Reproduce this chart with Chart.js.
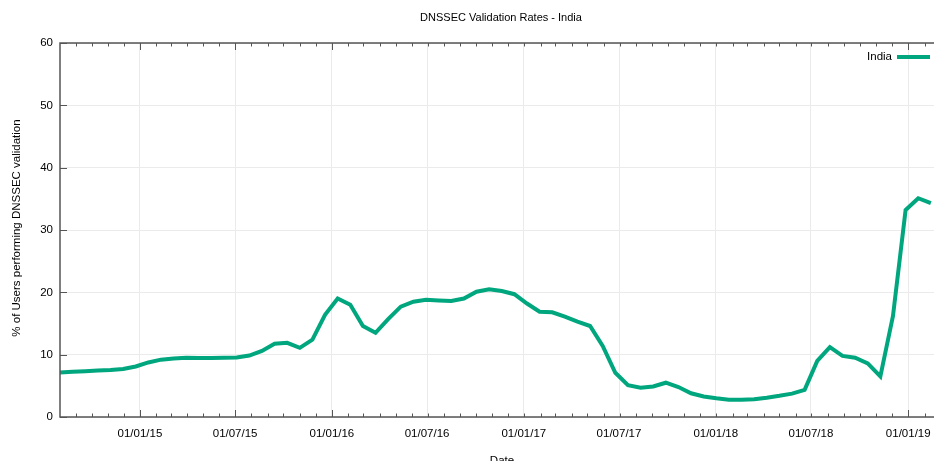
<!DOCTYPE html>
<html>
<head>
<meta charset="utf-8">
<script src="https://cdn.jsdelivr.net/npm/chart.js@4.4.0/dist/chart.umd.min.js"></script>
<style>
  html, body { margin: 0; padding: 0; background: #fff; }
  canvas { display: block; }
</style>
</head>
<body>
<canvas id="dnssecChart" width="934" height="461"></canvas>
<script>
// x values: days since 01/01/2015
var days = [
  -152, -128, -104, -80, -56, -32, -8, 16, 40, 64,
  88, 112, 136, 160, 184, 208, 232, 256, 280, 304,
  328, 352, 376, 400, 424, 448, 472, 496, 520, 544,
  568, 592, 616, 640, 664, 688, 712, 736, 760, 784,
  808, 832, 856, 880, 904, 928, 952, 976, 1000, 1024,
  1048, 1072, 1096, 1120, 1144, 1168, 1192, 1216, 1240, 1264,
  1288, 1312, 1336, 1360, 1384, 1408, 1432, 1456, 1480, 1504
];
// % of users performing DNSSEC validation
var india = [
  7.15, 7.25, 7.35, 7.45, 7.55, 7.7, 8.1, 8.75, 9.2, 9.4,
  9.5, 9.45, 9.45, 9.5, 9.55, 9.85, 10.6, 11.75, 11.9, 11.1,
  12.4, 16.4, 19.0, 18.0, 14.6, 13.5, 15.7, 17.7, 18.5, 18.8,
  18.7, 18.6, 19.0, 20.1, 20.5, 20.2, 19.7, 18.2, 16.9, 16.8,
  16.1, 15.3, 14.6, 11.4, 7.1, 5.1, 4.7, 4.9, 5.5, 4.8,
  3.8, 3.3, 3.0, 2.75, 2.75, 2.85, 3.1, 3.4, 3.75, 4.35,
  9.0, 11.2, 9.8, 9.5, 8.6, 6.5, 16.2, 33.2, 35.1, 34.3
];
var tickDays = [0, 181, 365, 546, 730, 911, 1095, 1276, 1461];
var tickLabels = ['01/01/15', '01/07/15', '01/01/16', '01/07/16', '01/01/17',
                  '01/07/17', '01/01/18', '01/07/18', '01/01/19'];
var yTicks = [0, 10, 20, 30, 40, 50, 60];

var FONT = '"Liberation Sans", Arial, Helvetica, sans-serif';
var lineColor = 'rgb(0, 166, 126)';
var axisColor = '#555555';

// month starts for the minor ticks
var minorDays = [];
for (var y = 2014; y <= 2019; y++) {
  for (var m = 0; m < 12; m++) {
    minorDays.push((Date.UTC(y, m, 1) - Date.UTC(2015, 0, 1)) / 86400000);
  }
}

var points = days.map(function(d, i) { return { x: d, y: india[i] }; });

var decor = {
  id: 'decor',
  afterDraw: function(chart) {
    var ctx = chart.ctx, a = chart.chartArea;
    var xs = chart.scales.x, ys = chart.scales.y;
    ctx.save();

    // frame: left, bottom, top
    ctx.strokeStyle = axisColor;
    ctx.lineWidth = 1.5;
    ctx.beginPath();
    ctx.moveTo(a.right + 2, a.top); ctx.lineTo(a.left, a.top);
    ctx.lineTo(a.left, a.bottom); ctx.lineTo(a.right + 2, a.bottom);
    ctx.stroke();

    // inward ticks
    ctx.lineWidth = 1;
    ctx.beginPath();
    minorDays.forEach(function(d) {
      if (d < xs.min || d > xs.max) return;
      var px = Math.round(xs.getPixelForValue(d)) + 0.5;
      var major = tickDays.indexOf(d) >= 0;
      var len = major ? 7 : 3.5;
      ctx.moveTo(px, a.bottom); ctx.lineTo(px, a.bottom - len);
      ctx.moveTo(px, a.top); ctx.lineTo(px, a.top + len);
    });
    yTicks.forEach(function(v) {
      var py = Math.round(ys.getPixelForValue(v)) + 0.5;
      ctx.moveTo(a.left, py); ctx.lineTo(a.left + 7, py);
    });
    ctx.stroke();

    // x tick labels
    ctx.fillStyle = '#000';
    ctx.font = '11.5px ' + FONT;
    ctx.textAlign = 'center';
    ctx.textBaseline = 'middle';
    tickDays.forEach(function(d, i) {
      ctx.fillText(tickLabels[i], xs.getPixelForValue(d), 434);
    });

    // titles
    ctx.font = '11px ' + FONT;
    ctx.fillText('DNSSEC Validation Rates - India', 501, 18);
    ctx.font = '11.5px ' + FONT;
    ctx.fillText('Date', 502, 461);
    ctx.save();
    ctx.translate(17, 228);
    ctx.rotate(-Math.PI / 2);
    ctx.fillText('% of Users performing DNSSEC validation', 0, 0);
    ctx.restore();

    // legend
    ctx.textAlign = 'right';
    ctx.fillText(chart.data.datasets[0].label, 892, 57);
    ctx.strokeStyle = lineColor;
    ctx.lineWidth = 4;
    ctx.beginPath();
    ctx.moveTo(897, 57); ctx.lineTo(930, 57);
    ctx.stroke();

    ctx.restore();
  }
};

new Chart(document.getElementById('dnssecChart'), {
  type: 'line',
  data: {
    datasets: [{
      label: 'India',
      data: points,
      borderColor: lineColor,
      borderWidth: 4,
      pointRadius: 0,
      tension: 0,
      fill: false
    }]
  },
  options: {
    responsive: false,
    animation: false,
    events: [],
    layout: { padding: { top: 43, right: 0, left: 0, bottom: 0 } },
    plugins: {
      legend: { display: false },
      title: { display: false },
      tooltip: { enabled: false }
    },
    scales: {
      x: {
        type: 'linear',
        min: -152,
        max: 1510,
        afterBuildTicks: function(scale) {
          scale.ticks = tickDays.map(function(v) { return { value: v }; });
        },
        afterFit: function(scale) { scale.height = 44; },
        ticks: { display: false },
        grid: { color: '#ebebeb', lineWidth: 1, drawTicks: false },
        border: { display: false }
      },
      y: {
        min: 0,
        max: 60,
        afterBuildTicks: function(scale) {
          scale.ticks = yTicks.map(function(v) { return { value: v }; });
        },
        afterFit: function(scale) { scale.width = 60; },
        ticks: {
          color: '#000',
          padding: 7,
          font: { family: FONT, size: 11.5 }
        },
        grid: { color: '#ebebeb', lineWidth: 1, drawTicks: false },
        border: { display: false }
      }
    }
  },
  plugins: [decor]
});
</script>
</body>
</html>
